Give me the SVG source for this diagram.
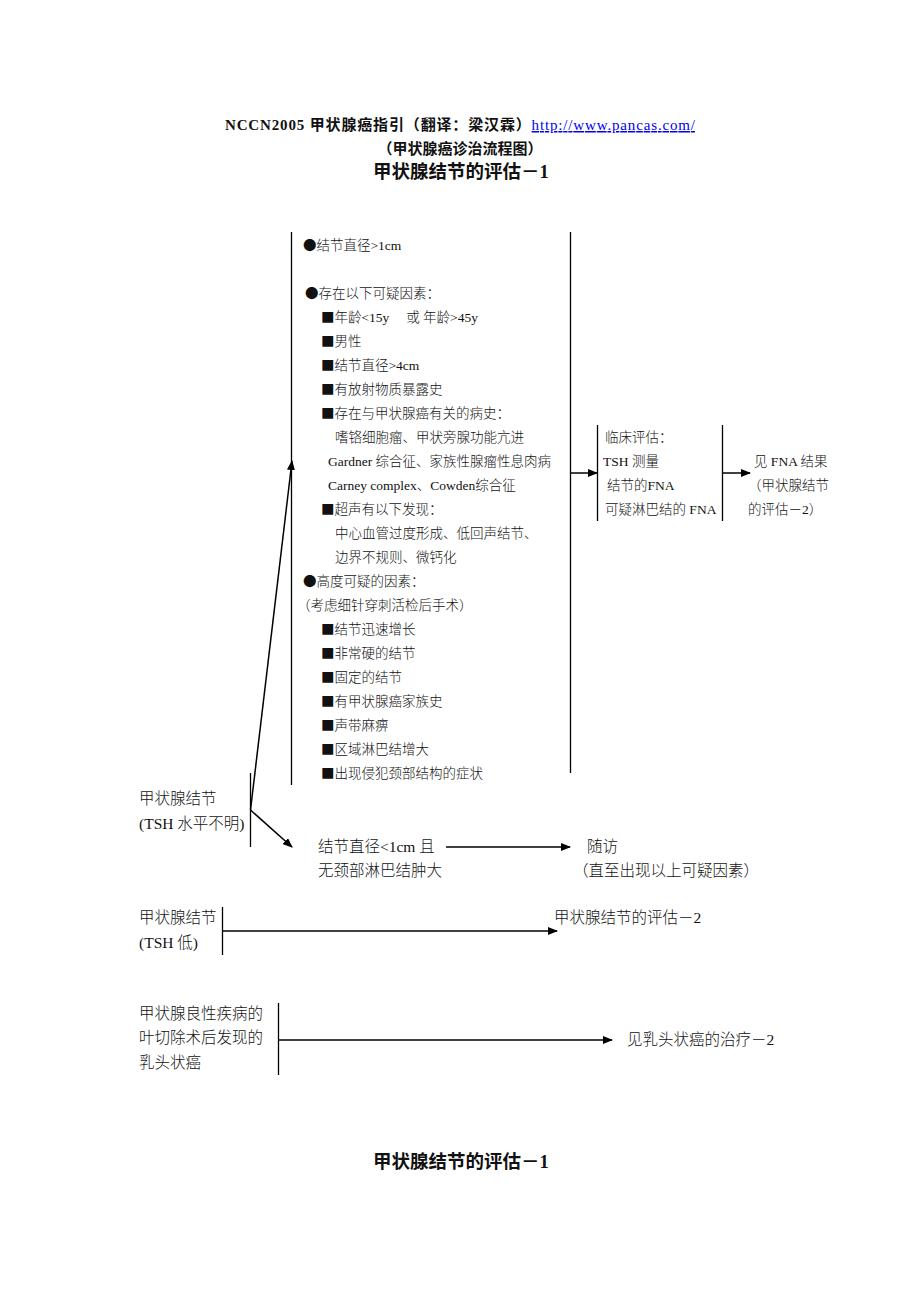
<svg xmlns="http://www.w3.org/2000/svg" width="920" height="1302" viewBox="0 0 920 1302">
<defs>
<marker id="ah" markerWidth="10" markerHeight="8" refX="9" refY="4" orient="auto" markerUnits="userSpaceOnUse">
<path d="M0,0 L10,4 L0,8 z" fill="#000"/>
</marker>
<style>
.t{font-family:"Liberation Serif","Noto Sans CJK SC",serif;fill:#111}
.b{font-family:"Noto Sans CJK SC",sans-serif;font-weight:normal}
.h{font-weight:bold;font-size:15px}
.h2{font-weight:bold;font-size:18.5px}
.s{font-size:13.5px;font-weight:300}
.m{font-size:15.5px;font-weight:300}
.ln{stroke:#000;stroke-width:1.3;fill:none}
.ar{stroke:#000;stroke-width:1.5;fill:none;marker-end:url(#ah)}
</style>
</defs>
<rect width="920" height="1302" fill="#fff"/>
<g id="title">
<text class="t h" x="225" y="130" textLength="470">NCCN2005 甲状腺癌指引（翻译：梁汉霖）<tspan fill="#0000ee" text-decoration="underline" font-weight="normal">http://www.pancas.com/</tspan></text>
<text class="t h" x="460" y="154" text-anchor="middle">（甲状腺癌诊治流程图）</text>
<text class="t h2" x="461" y="178" text-anchor="middle">甲状腺结节的评估－1</text>
</g>
<g id="connectors">
<line class="ln" x1="291.5" y1="232" x2="291.5" y2="785"/>
<line class="ln" x1="570.5" y1="232" x2="570.5" y2="773"/>
<line class="ar" x1="570.5" y1="473" x2="597" y2="473"/>
<line class="ln" x1="597.5" y1="425" x2="597.5" y2="521"/>
<line class="ln" x1="722.5" y1="425" x2="722.5" y2="521"/>
<line class="ar" x1="722.5" y1="473" x2="750" y2="473"/>
<line class="ln" x1="250.5" y1="773" x2="250.5" y2="847"/>
<line class="ar" x1="250.5" y1="810" x2="292" y2="461"/>
<line class="ar" x1="250.5" y1="810" x2="292" y2="847"/>
<line class="ar" x1="446" y1="847" x2="570" y2="847"/>
<line class="ln" x1="222.5" y1="907" x2="222.5" y2="955"/>
<line class="ar" x1="222.5" y1="931" x2="557" y2="931"/>
<line class="ln" x1="278.5" y1="1003" x2="278.5" y2="1075"/>
<line class="ar" x1="278.5" y1="1040" x2="612" y2="1040"/>
</g>
<g id="criteria">
<text class="t s" x="303" y="250"><tspan class="b">●</tspan>结节直径&gt;1cm</text>
<text class="t s" x="305" y="298"><tspan class="b">●</tspan>存在以下可疑因素：</text>
<text class="t s" x="321" y="322"><tspan class="b">■</tspan>年龄&lt;15y　 或  年龄&gt;45y</text>
<text class="t s" x="321" y="346"><tspan class="b">■</tspan>男性</text>
<text class="t s" x="321" y="370"><tspan class="b">■</tspan>结节直径&gt;4cm</text>
<text class="t s" x="321" y="394"><tspan class="b">■</tspan>有放射物质暴露史</text>
<text class="t s" x="321" y="418"><tspan class="b">■</tspan>存在与甲状腺癌有关的病史：</text>
<text class="t s" x="335" y="442">嗜铬细胞瘤、甲状旁腺功能亢进</text>
<text class="t s" x="328" y="466">Gardner 综合征、家族性腺瘤性息肉病</text>
<text class="t s" x="328" y="490">Carney complex、Cowden综合征</text>
<text class="t s" x="321" y="514"><tspan class="b">■</tspan>超声有以下发现：</text>
<text class="t s" x="335" y="538">中心血管过度形成、低回声结节、</text>
<text class="t s" x="335" y="562">边界不规则、微钙化</text>
<text class="t s" x="303" y="586"><tspan class="b">●</tspan>高度可疑的因素：</text>
<text class="t s" x="297" y="610">（考虑细针穿刺活检后手术）</text>
<text class="t s" x="321" y="634"><tspan class="b">■</tspan>结节迅速增长</text>
<text class="t s" x="321" y="658"><tspan class="b">■</tspan>非常硬的结节</text>
<text class="t s" x="321" y="682"><tspan class="b">■</tspan>固定的结节</text>
<text class="t s" x="321" y="706"><tspan class="b">■</tspan>有甲状腺癌家族史</text>
<text class="t s" x="321" y="730"><tspan class="b">■</tspan>声带麻痹</text>
<text class="t s" x="321" y="754"><tspan class="b">■</tspan>区域淋巴结增大</text>
<text class="t s" x="321" y="778"><tspan class="b">■</tspan>出现侵犯颈部结构的症状</text>
</g>
<g id="clinical">
<text class="t s" x="605" y="442">临床评估：</text>
<text class="t s" x="603" y="466">TSH 测量</text>
<text class="t s" x="607" y="490">结节的FNA</text>
<text class="t s" x="605" y="514">可疑淋巴结的 FNA</text>
</g>
<g id="fna">
<text class="t s" x="754" y="466">见 FNA 结果</text>
<text class="t s" x="748" y="490">（甲状腺结节</text>
<text class="t s" x="748" y="514">的评估－2）</text>
</g>
<g id="nodule-unknown">
<text class="t m" x="139" y="804">甲状腺结节</text>
<text class="t m" x="139" y="829">(TSH 水平不明)</text>
</g>
<g id="small-nodule">
<text class="t m" x="318" y="852">结节直径&lt;1cm 且</text>
<text class="t m" x="318" y="876">无颈部淋巴结肿大</text>
</g>
<g id="followup">
<text class="t m" x="587" y="852">随访</text>
<text class="t m" x="573" y="876">（直至出现以上可疑因素）</text>
</g>
<g id="nodule-low">
<text class="t m" x="139" y="923">甲状腺结节</text>
<text class="t m" x="139" y="948">(TSH 低)</text>
</g>
<g id="eval2">
<text class="t m" x="554" y="923">甲状腺结节的评估－2</text>
</g>
<g id="benign">
<text class="t m" x="139" y="1019">甲状腺良性疾病的</text>
<text class="t m" x="139" y="1043">叶切除术后发现的</text>
<text class="t m" x="139" y="1068">乳头状癌</text>
</g>
<g id="papillary">
<text class="t m" x="627" y="1045">见乳头状癌的治疗－2</text>
</g>
<g id="footer">
<text class="t h2" x="461" y="1168" text-anchor="middle">甲状腺结节的评估－1</text>
</g>
</svg>
